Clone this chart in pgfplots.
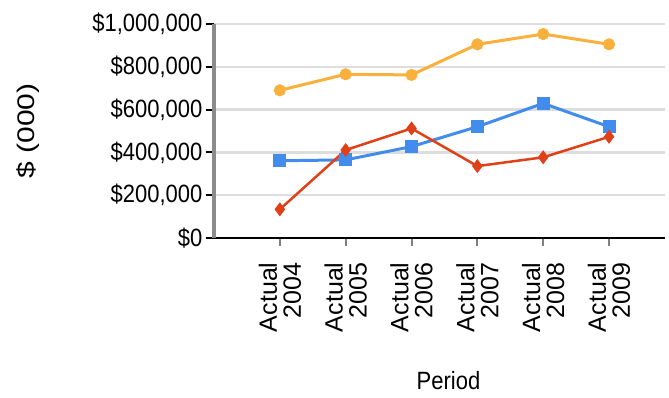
\documentclass[border=0pt]{standalone}
\usepackage{fontspec}
\setmainfont{Liberation Sans}
\newfontfamily\narrowf{Liberation Sans}[FakeStretch=0.88]
\newfontfamily\widef{Liberation Sans}[FakeStretch=1.25]
\usepackage{pgfplots}
\pgfplotsset{compat=1.18}
\definecolor{corange}{HTML}{FAB03C}
\definecolor{cblue}{HTML}{428CEE}
\definecolor{cred}{HTML}{E04018}
\definecolor{cgrid}{HTML}{DDDDDD}
\begin{document}
\begin{tikzpicture}
\path[use as bounding box] (-214pt,-160pt) rectangle (455pt,238pt);
\begin{axis}[
  at={(0pt,0pt)}, anchor=south west,
  scale only axis, width=451pt, height=214pt,
  xmin=-1, xmax=5.85, ymin=0, ymax=1000000,
  axis x line*=bottom, axis y line*=left,
  x axis line style={black, line width=2.5pt, -},
  y axis line style={gray!90, line width=3.5pt, -},
  xtick={0,1,2,3,4,5},
  xticklabels={{Actual\\2004},{Actual\\2005},{Actual\\2006},{Actual\\2007},{Actual\\2008},{Actual\\2009}},
  ytick={0,200000,400000,600000,800000,1000000},
  yticklabels={{\$0},{\$200,000},{\$400,000},{\$600,000},{\$800,000},{\$1,000,000}},
  scaled y ticks=false,
  tick align=outside,
  major tick length=8pt,
  x tick style={gray, line width=2pt},
  y tick style={black, line width=2pt},
  ymajorgrids, major grid style={cgrid, line width=2.5pt},
  xticklabel style={rotate=90, anchor=east, align=right, font=\fontsize{25}{24}\selectfont, xshift=-13pt},
  yticklabel style={font=\narrowf\fontsize{25}{24}\selectfont, xshift=0pt},
  xlabel={Period}, xlabel style={font=\narrowf\fontsize{25}{24}\selectfont},
  x label style={at={(axis description cs:0.52,0)}, anchor=north, yshift=-130pt},
  ylabel={\$ (000)}, ylabel style={font=\widef\fontsize{24}{24}\selectfont},
  y label style={at={(axis description cs:-0.413,0.5)}, anchor=center, rotate=0},
  clip=false,
]
\addplot[corange, line width=3pt, mark=*, mark size=4.5pt] coordinates {
 (0,690000) (1,765000) (2,762000) (3,905000) (4,953000) (5,905000)};
\addplot[cblue, line width=3pt, mark=square*, mark size=5pt] coordinates {
 (0,361000) (1,365000) (2,427000) (3,520000) (4,629000) (5,520000)};
\addplot[cred, line width=2.5pt, mark=diamond*, mark size=5pt] coordinates {
 (0,134000) (1,411000) (2,512000) (3,336000) (4,377000) (5,473000)};
\end{axis}
\end{tikzpicture}
\end{document}
